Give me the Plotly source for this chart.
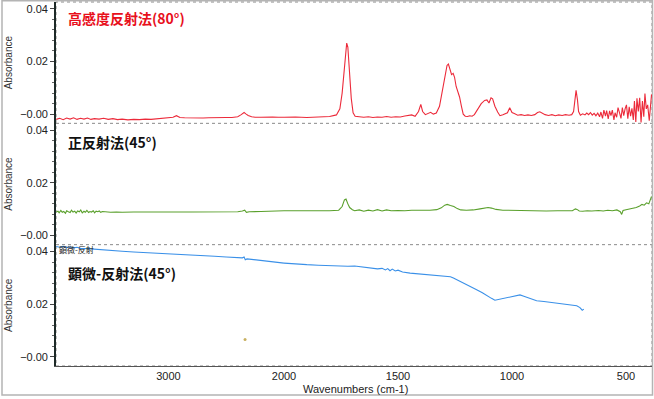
import plotly.graph_objects as go
from plotly.subplots import make_subplots

# ---------------- data ----------------
red_wn = [3970, 3940, 3910, 3880, 3850, 3820, 3790, 3760, 3730, 3700, 3670, 3640, 3600, 3560,
          3520, 3480, 3440, 3400, 3350, 3300, 3250, 3200, 3150, 3100, 3050, 3000, 2960, 2930,
          2900, 2860, 2800, 2750, 2700, 2650, 2600, 2550, 2500, 2450, 2400, 2370, 2345, 2330,
          2310, 2280, 2250, 2200, 2150, 2100, 2050, 2000, 1950, 1900, 1850, 1800, 1770, 1755,
          1745, 1737, 1730, 1725, 1720, 1713, 1705, 1697, 1688, 1670, 1650, 1630, 1610, 1590,
          1570, 1550, 1530, 1510, 1490, 1470, 1455, 1440, 1425, 1410, 1400, 1392, 1380, 1365,
          1357, 1345, 1332, 1318, 1305, 1295, 1285, 1279, 1272, 1265, 1258, 1252, 1245, 1237,
          1230, 1222, 1214, 1205, 1195, 1185, 1175, 1165, 1150, 1135, 1120, 1110, 1101, 1092,
          1085, 1075, 1063, 1053, 1040, 1030, 1020, 1010, 1000, 990, 975, 960, 945, 930, 915,
          900, 888, 878, 868, 855, 840, 825, 810, 795, 780, 765, 750, 738, 730, 724, 719, 713,
          708, 700, 690, 680, 672, 664, 656, 648, 640, 632, 624, 616, 610, 603, 597, 590, 585,
          578, 572, 566, 560, 553, 548, 541, 535, 528, 522, 516, 510, 504, 498, 492, 486, 480,
          474, 468, 463, 457, 452, 446, 440, 434, 428, 422, 417, 411, 405, 398, 392, 388]
red_ab = [-0.0020, -0.0016, -0.0021, -0.0015, -0.0019, -0.0014, -0.0020, -0.0016, -0.0019, -0.0015,
          -0.0020, -0.0017, -0.0019, -0.0016, -0.0020, -0.0017, -0.0021, -0.0019, -0.0022, -0.0020,
          -0.0021, -0.0019, -0.0020, -0.0018, -0.0017, -0.0015, -0.0012, -0.0006, -0.0013, -0.0014,
          -0.0015, -0.0014, -0.0015, -0.0014, -0.0013, -0.0014, -0.0013, -0.0013, -0.0010, -0.0002,
          0.0006, 0.0001, -0.0005, -0.0010, -0.0012, -0.0012, -0.0011, -0.0011, -0.0012, -0.0012,
          -0.0011, -0.0013, -0.0010, -0.0009, -0.0003, 0.0020, 0.0080, 0.0170, 0.0250, 0.0270,
          0.0255, 0.0170, 0.0060, 0.0005, -0.0008, -0.0010, -0.0012, -0.0010, -0.0013, -0.0011,
          -0.0012, -0.0009, -0.0012, -0.0010, -0.0011, -0.0007, -0.0004, -0.0003, -0.0008, 0.0010,
          0.0037, 0.0010, -0.0002, 0.0003, 0.0007, 0.0000, 0.0004, 0.0030, 0.0090, 0.0140,
          0.0185, 0.0190, 0.0170, 0.0150, 0.0155, 0.0140, 0.0105, 0.0085, 0.0065, 0.0030,
          0.0000, -0.0008, -0.0009, -0.0006, -0.0008, -0.0002, 0.0020, 0.0040, 0.0052, 0.0054,
          0.0042, 0.0062, 0.0058, 0.0030, 0.0008, -0.0006, -0.0002, 0.0003, 0.0005, 0.0024,
          0.0006, 0.0002, -0.0004, -0.0002, -0.0005, -0.0003, -0.0005, -0.0002, 0.0006, 0.0009,
          0.0004, -0.0002, -0.0005, -0.0002, -0.0006, -0.0003, -0.0005, -0.0002, -0.0004, -0.0002,
          0.0010, 0.0060, 0.0090, 0.0055, 0.0010, -0.0004, 0.0001, -0.0003, 0.0004, -0.0002,
          0.0006, -0.0004, 0.0003, -0.0006, 0.0004, -0.0010, 0.0008, -0.0016, 0.0015, -0.0008,
          0.0013, -0.0018, 0.0012, -0.0006, 0.0015, -0.0022, 0.0005, -0.0012, 0.0025, 0.0004,
          -0.0016, 0.0025, -0.0006, 0.0020, 0.0035, -0.0017, 0.0028, -0.0008, 0.0022, -0.0022,
          0.0050, -0.0030, 0.0060, 0.0010, 0.0062, -0.0032, 0.0050, -0.0010, 0.0078, 0.0020,
          0.0035, -0.0025, 0.0048, 0.0075]

green_wn = [3970, 3955, 3945, 3930, 3918, 3905, 3890, 3880, 3865, 3850, 3838, 3825, 3810, 3798,
            3785, 3770, 3758, 3745, 3730, 3718, 3705, 3690, 3678, 3665, 3650, 3638, 3625, 3610,
            3598, 3585, 3570, 3550, 3500, 3450, 3400, 3300, 3200, 3100,
            3000, 2950, 2900, 2800, 2700, 2600, 2500, 2400, 2360, 2340, 2325, 2300, 2200, 2100,
            2000, 1900, 1800, 1760, 1745, 1735, 1728, 1720, 1712, 1700, 1690, 1670, 1650, 1630,
            1610, 1590, 1570, 1550, 1530, 1500, 1470, 1440, 1400, 1360, 1330, 1310, 1295, 1284,
            1270, 1255, 1240, 1225, 1200, 1170, 1140, 1120, 1105, 1090, 1070, 1040, 1000, 950,
            900, 850, 800, 760, 735, 722, 715, 705, 690, 670, 650, 620, 600, 580, 560, 540, 525,
            519, 513, 500, 485, 470, 455, 440, 430, 420, 410, 400, 392, 388]
green_ab = [0.0089, 0.0092, 0.0086, 0.0095, 0.0088, 0.0091, 0.0084, 0.0094, 0.0090, 0.0087,
            0.0096, 0.0089, 0.0092, 0.0085, 0.0093, 0.0090, 0.0097, 0.0086, 0.0092, 0.0088,
            0.0095, 0.0087, 0.0091, 0.0089, 0.0094, 0.0086, 0.0092, 0.0090, 0.0093, 0.0088,
            0.0091, 0.0090, 0.0088, 0.0089, 0.0088, 0.0089, 0.0088, 0.0089,
            0.0089, 0.0090, 0.0089, 0.0089, 0.0089,
            0.0090, 0.0090, 0.0090, 0.0093, 0.0096, 0.0088, 0.0090, 0.0091, 0.0092, 0.0094, 0.0093,
            0.0094, 0.0096, 0.0110, 0.0135, 0.0138, 0.0120, 0.0106, 0.0098, 0.0094, 0.0097, 0.0092,
            0.0096, 0.0093, 0.0098, 0.0093, 0.0097, 0.0094, 0.0095, 0.0094, 0.0096, 0.0095, 0.0096,
            0.0098, 0.0105, 0.0115, 0.0118, 0.0114, 0.0110, 0.0102, 0.0097, 0.0096, 0.0097, 0.0101,
            0.0104, 0.0106, 0.0104, 0.0099, 0.0096, 0.0095, 0.0094, 0.0093, 0.0093, 0.0094, 0.0093,
            0.0094, 0.0101, 0.0099, 0.0093, 0.0092, 0.0094, 0.0093, 0.0095, 0.0093, 0.0096, 0.0094,
            0.0097, 0.0090, 0.0080, 0.0095, 0.0098, 0.0100, 0.0103, 0.0106, 0.0112, 0.0118, 0.0115,
            0.0124, 0.0120, 0.0135, 0.0148]

blue_wn = [3970, 3940, 3910, 3880, 3850, 3820, 3790, 3760, 3700, 3600, 3500, 3400, 3300, 3200,
           3100, 3000, 2900, 2800, 2700, 2600, 2500, 2400, 2360, 2345, 2335, 2320, 2250, 2150,
           2050, 2000, 1950, 1900, 1850, 1800, 1760, 1720, 1690, 1652, 1620, 1590, 1570, 1555,
           1545, 1535, 1525, 1512, 1500, 1480, 1447, 1420, 1390, 1360, 1330, 1300, 1286, 1270,
           1257, 1235, 1213, 1185, 1155, 1130, 1111, 1090, 1075, 1060, 1038, 1020, 1002, 985,
           965, 948, 928, 910, 892, 860, 833, 800, 775, 745, 716, 702, 692, 685]
blue_ab = [0.0419, 0.0416, 0.0420, 0.0415, 0.0418, 0.0414, 0.0416, 0.0412, 0.0411, 0.0407, 0.0404,
           0.0401, 0.0398, 0.0396, 0.0393, 0.0391, 0.0389, 0.0386, 0.0384, 0.0382, 0.0379, 0.0376,
           0.0376, 0.0379, 0.0369, 0.0372, 0.0368, 0.0363, 0.0358, 0.0356, 0.0352, 0.0350, 0.0348,
           0.0346, 0.0347, 0.0344, 0.0345, 0.0341, 0.0339, 0.0334, 0.0336, 0.0330, 0.0335, 0.0327,
           0.0333, 0.0326, 0.0329, 0.0322, 0.0318, 0.0316, 0.0313, 0.0311, 0.0309, 0.0309, 0.0308,
           0.0304, 0.0299, 0.0290, 0.0280, 0.0268, 0.0255, 0.0243, 0.0232, 0.0222, 0.0215, 0.0218,
           0.0221, 0.0226, 0.0230, 0.0232, 0.0235, 0.0230, 0.0224, 0.0218, 0.0213, 0.0210, 0.0207,
           0.0204, 0.0201, 0.0198, 0.0194, 0.0187, 0.0177, 0.0181]

dot_wn = [2337]
dot_ab = [0.0066]

series_labels = ["高感度反射法(80°)", "正反射法(45°)", "顕微-反射法(45°)"]
inset_label = "顕微-反射"
y_tickvals = [0.0, 0.02, 0.04]
y_ticktext = ["−0.00", "0.02", "0.04"]
x_tickvals_left = [3000]
x_tickvals_right = [2000, 1500, 1000, 500]
x_title = "Wavenumbers (cm-1)"
y_title = "Absorbance"

# ---------------- layout geometry ----------------
W, H = 654, 399
ML, MR, MT, MB = 56, 2, 2, 33
PW, PH = W - ML - MR, H - MT - MB
SPLIT = 2000
LEFT_RANGE = [3972, SPLIT]
RIGHT_RANGE = [SPLIT, 386]
col_frac = (284 - ML) / PW
Y_RANGE = [-0.0035, 0.0426]


def px_x(x):
    return (x - ML) / PW


def px_y(y):
    return 1 - (y - MT) / PH


fig = make_subplots(rows=3, cols=2, column_widths=[col_frac, 1 - col_frac],
                    horizontal_spacing=0, vertical_spacing=0)

colors = ["#ec2a3a", "#5aa02c", "#3a90e8"]
datasets = [(red_wn, red_ab), (green_wn, green_ab), (blue_wn, blue_ab)]

for i, ((wn, ab), c) in enumerate(zip(datasets, colors)):
    row = i + 1
    lx = [w for w in wn if w >= SPLIT]
    ly = [a for w, a in zip(wn, ab) if w >= SPLIT]
    rx = [w for w in wn if w <= SPLIT]
    ry = [a for w, a in zip(wn, ab) if w <= SPLIT]
    fig.add_trace(go.Scatter(x=lx, y=ly, mode="lines", line=dict(color=c, width=1.1),
                             showlegend=False, hoverinfo="skip"), row=row, col=1)
    fig.add_trace(go.Scatter(x=rx, y=ry, mode="lines", line=dict(color=c, width=1.1),
                             showlegend=False, hoverinfo="skip"), row=row, col=2)

fig.add_trace(go.Scatter(x=dot_wn, y=dot_ab, mode="markers",
                         marker=dict(color="#c8b060", size=3), showlegend=False,
                         hoverinfo="skip"), row=3, col=1)

tick_font = dict(family="Liberation Sans, Arial, sans-serif", size=11, color="#222222")

for row in (1, 2, 3):
    fig.update_xaxes(range=LEFT_RANGE, row=row, col=1, showgrid=False, zeroline=False,
                     tickvals=x_tickvals_left, showticklabels=(row == 3), ticks="",
                     tickfont=tick_font)
    fig.update_xaxes(range=RIGHT_RANGE, row=row, col=2, showgrid=False, zeroline=False,
                     tickvals=x_tickvals_right, showticklabels=(row == 3), ticks="",
                     tickfont=tick_font)
    fig.update_yaxes(range=Y_RANGE, row=row, col=1, showgrid=False, zeroline=False,
                     tickvals=y_tickvals, ticktext=y_ticktext, ticks="outside", ticklen=4,
                     tickcolor="#444444", tickfont=tick_font,
                     minor=dict(dtick=0.004, ticks="outside", ticklen=2, tickcolor="#666666"),
                     showline=True, linecolor="#1e2a28", linewidth=1.6,
                     title=dict(text=y_title, font=dict(family="Liberation Sans, Arial, sans-serif",
                                                          size=10, color="#333333"), standoff=6))
    fig.update_yaxes(range=Y_RANGE, row=row, col=2, showgrid=False, zeroline=False,
                     showticklabels=False, ticks="")

fig.update_xaxes(showline=True, linecolor="#555555", linewidth=1.2, row=3, col=1)
fig.update_xaxes(showline=True, linecolor="#555555", linewidth=1.2, row=3, col=2)

shapes = []
# dotted panel borders
shapes.append(dict(type="rect", xref="paper", yref="paper", x0=0, x1=1, y0=0, y1=1,
                   line=dict(color="#8a8a8a", width=1, dash="dot"), layer="below"))
for yy in (1 / 3, 2 / 3):
    shapes.append(dict(type="line", xref="paper", yref="paper", x0=0, x1=1, y0=yy, y1=yy,
                       line=dict(color="#8a8a8a", width=1, dash="dot"), layer="below"))
# outer picture frame
shapes.append(dict(type="rect", xref="paper", yref="paper", x0=px_x(2), x1=px_x(652.5),
                   y0=px_y(395), y1=px_y(0.8), line=dict(color="#b4b4b4", width=1.5),
                   layer="below"))

cjk = "Noto Sans CJK JP, sans-serif"
annotations = [
    dict(text=f"<b>{series_labels[0]}</b>", x=px_x(66), y=px_y(18), xref="paper", yref="paper",
         xanchor="left", yanchor="middle", showarrow=False,
         font=dict(family=cjk, size=14, color="#e8101c")),
    dict(text=f"<b>{series_labels[1]}</b>", x=px_x(66), y=px_y(142), xref="paper", yref="paper",
         xanchor="left", yanchor="middle", showarrow=False,
         font=dict(family=cjk, size=14, color="#111111")),
    dict(text=f"<b>{series_labels[2]}</b>", x=px_x(66), y=px_y(273), xref="paper", yref="paper",
         xanchor="left", yanchor="middle", showarrow=False,
         font=dict(family=cjk, size=14, color="#111111")),
    dict(text=inset_label, x=px_x(57), y=px_y(249), xref="paper", yref="paper",
         xanchor="left", yanchor="middle", showarrow=False,
         font=dict(family=cjk, size=8, color="#222222")),
    dict(text=x_title, x=px_x(355), y=px_y(389), xref="paper", yref="paper",
         xanchor="center", yanchor="middle", showarrow=False,
         font=dict(family="Liberation Sans, Arial, sans-serif", size=11, color="#222222")),
]

fig.update_layout(width=W, height=H, margin=dict(l=ML, r=MR, t=MT, b=MB),
                  paper_bgcolor="white", plot_bgcolor="white",
                  shapes=shapes, annotations=annotations, showlegend=False)

fig.write_html("out.html", config={"displayModeBar": False},
               post_script="document.body.style.margin='0';document.body.style.overflow='hidden';")
